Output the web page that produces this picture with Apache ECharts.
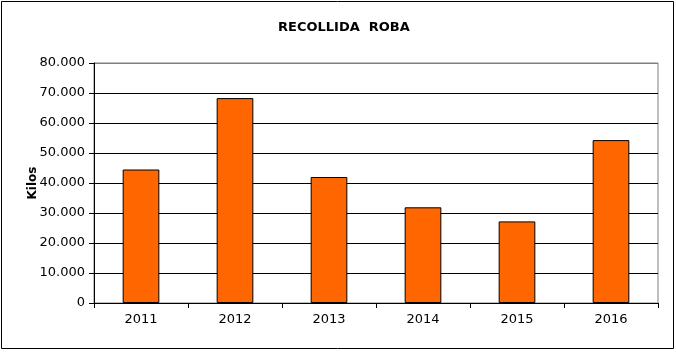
<!DOCTYPE html>
<html>
<head>
<meta charset="utf-8">
<script src="https://cdn.jsdelivr.net/npm/echarts@6/dist/echarts.min.js"></script>
<style>
  html, body { margin: 0; padding: 0; background: #fff; }
  #chart { width: 676px; height: 353px; }
</style>
</head>
<body>
<div id="chart"></div>
<script>
// dades
var years = ['2011', '2012', '2013', '2014', '2015', '2016'];
var kilos = [44500, 68300, 42000, 31900, 27200, 54300];
var gridColors = ['#000', '#000', '#000', '#000', '#000', '#000', '#000', '#000', '#808080'];

var chart = echarts.init(document.getElementById('chart'), null, { renderer: 'canvas' });

function fmt(v) {
  return String(v).replace(/\B(?=(\d{3})+(?!\d))/g, '.');
}

var option = {
  animation: false,
  textStyle: { fontFamily: 'DejaVu Sans' },
  title: {
    text: 'RECOLLIDA  ROBA',
    left: 273,
    top: 16,
    textStyle: { fontSize: 13, fontWeight: 'bold', color: '#000', fontFamily: 'DejaVu Sans' }
  },
  graphic: [{
    type: 'rect',
    shape: { x: 1.5, y: 1.5, width: 672, height: 347 },
    style: { fill: null, stroke: '#000', lineWidth: 1 },
    silent: true
  }],
  grid: {
    left: 94, right: 18, top: 63, bottom: 50,
    show: true, borderColor: '#808080', borderWidth: 1
  },
  xAxis: {
    type: 'category',
    data: years,
    axisLine: { lineStyle: { color: '#000', width: 1 } },
    axisTick: { show: true, length: 5, lineStyle: { color: '#000' } },
    axisLabel: { color: '#000', fontSize: 13, margin: 10 }
  },
  yAxis: {
    type: 'value',
    min: 0, max: 80000, interval: 10000,
    name: 'Kilos',
    nameLocation: 'middle',
    nameRotate: 90,
    nameGap: 55,
    nameMoveOverlap: false,
    nameTextStyle: { fontSize: 12, fontWeight: 'bold', color: '#000' },
    axisLine: { show: true, lineStyle: { color: '#000', width: 1 } },
    axisTick: { show: true, length: 5, lineStyle: { color: '#000' } },
    axisLabel: { color: '#000', fontSize: 13, margin: 9, formatter: fmt },
    splitLine: { show: true, lineStyle: { color: gridColors, width: 1 } }
  },
  series: [{
    type: 'bar',
    data: kilos,
    barWidth: '39%',
    itemStyle: { color: '#ff6600', borderColor: '#000', borderWidth: 1 }
  }]
};

chart.setOption(option);
</script>
</body>
</html>
